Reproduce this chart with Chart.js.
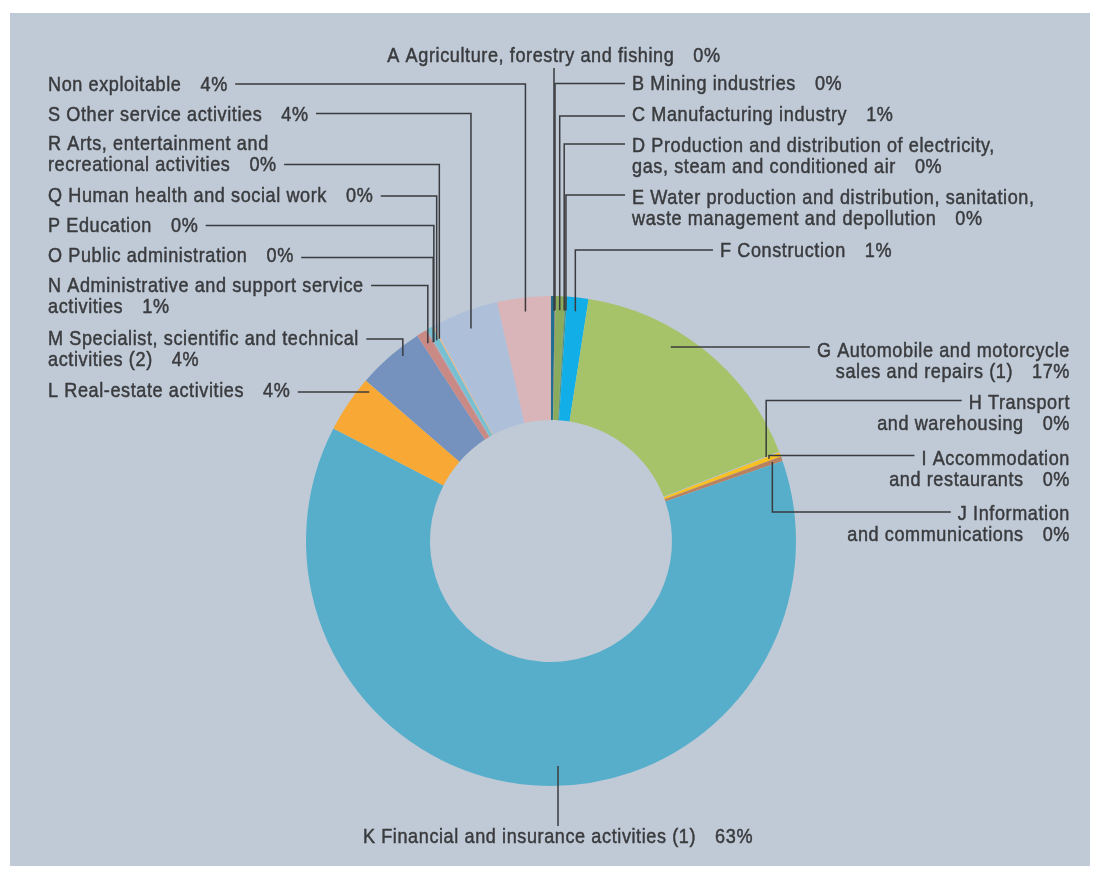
<!DOCTYPE html>
<html>
<head>
<meta charset="utf-8">
<script src="https://cdn.jsdelivr.net/npm/chart.js@4"></script>
<style>
  html, body { margin: 0; background: #fff; }
  #panel { position: absolute; left: 10px; top: 13px; width: 1080px; height: 853px; background: #bfcad6; }
  #chart { position: absolute; left: 0; top: 0; }
</style>
</head>
<body>
<div id="panel"></div>
<canvas id="chart" width="1093" height="870"></canvas>
<script>
// Sectors, clockwise from 12 o'clock
const categories = [
  'A Agriculture, forestry and fishing',
  'B Mining industries',
  'C Manufacturing industry',
  'D Production and distribution of electricity,\ngas, steam and conditioned air',
  'E Water production and distribution, sanitation,\nwaste management and depollution',
  'F Construction',
  'G Automobile and motorcycle\nsales and repairs (1)',
  'H Transport\nand warehousing',
  'I Accommodation\nand restaurants',
  'J Information\nand communications',
  'K Financial and insurance activities (1)',
  'L Real-estate activities',
  'M Specialist, scientific and technical\nactivities (2)',
  'N Administrative and support service\nactivities',
  'O Public administration',
  'P Education',
  'Q Human health and social work',
  'R Arts, entertainment and\nrecreational activities',
  'S Other service activities',
  'Non exploitable'
]
// share of total (%)
const shares = [0.25, 0.05, 0.6, 0.05, 0.1, 1.4, 16.6, 0.05, 0.3, 0.3, 62.9, 3.76, 4.45, 0.65, 0.05, 0.05, 0.4, 0.1, 4.41, 3.53]
// percentages as printed on the chart
const pctLabels = ['0%', '0%', '1%', '0%', '0%', '1%', '17%', '0%', '0%', '0%', '63%', '4%', '4%', '1%', '0%', '0%', '0%', '0%', '4%', '4%']

const colors = [
  '#1f6f8f', '#9a7a5a', '#8aab5c', '#6f9a60', '#4f8f78', '#12aee8', '#a6c36a',
  '#b0c0d6', '#f8c020', '#b88260', '#57aecb', '#f8a935', '#7592be', '#c98a86',
  '#c08a8a', '#a0b0c8', '#76c0d2', '#e9b98e', '#aebfd9', '#d9b4b8'
]

// where each callout sits: first baseline y, leader y (ly), which line carries the leader (ll)
const labelPos = [
  { x: 554, y: 62, align: 'center', lead: 'v', inset: 15 },
  { x: 632, y: 90, ly: 83.5, align: 'left' },
  { x: 632, y: 121, ly: 116, align: 'left' },
  { x: 632, y: 152, ly: 144, align: 'left', frac: 0.2 },
  { x: 632, y: 204, ly: 195, align: 'left', frac: 0.8 },
  { x: 720, y: 257, ly: 250, align: 'left', frac: 0.45 },
  { x: 1070, y: 357, ly: 347, align: 'right', lead: 'flat', inset: 17 },
  { x: 1070, y: 409, ly: 400.5, align: 'right', inset: 14 },
  { x: 1070, y: 465, ly: 455.5, align: 'right', inset: 12 },
  { x: 1070, y: 520, ly: 512, align: 'right', inset: 10 },
  { x: 558, y: 843, align: 'center', lead: 'v', inset: 20 },
  { x: 48, y: 397, ly: 392, align: 'left', lead: 'flat', inset: 10 },
  { x: 48, y: 345, ly: 339, align: 'left', frac: 0.65, inset: 8 },
  { x: 48, y: 291.5, ly: 285.5, align: 'left', inset: 12 },
  { x: 48, y: 262, ly: 257.5, align: 'left', inset: 14 },
  { x: 48, y: 232, ly: 225.5, align: 'left', inset: 14 },
  { x: 48, y: 202, ly: 196, align: 'left', inset: 14 },
  { x: 48, y: 150, ly: 164.5, ll: 1, align: 'left', inset: 14, frac: 0.1 },
  { x: 48, y: 121, ly: 113.5, align: 'left', inset: 18 },
  { x: 48, y: 91, ly: 84, align: 'left', inset: 14 }
]

// condensed look: Liberation Sans squeezed horizontally, a touch heavier
const FONT = '21px "Liberation Sans", Arial, sans-serif'
const SX = 0.86
const TRACK = 0.6
const LINE_H = 21
const PCT_GAP = 19
const INK = '#3a3b3e'

const callouts = {
  id: 'callouts',
  afterDraw(chart) {
    const ctx = chart.ctx
    const arcs = chart.getDatasetMeta(0).data
    ctx.save()
    ctx.font = FONT
    ctx.letterSpacing = (TRACK / SX) + 'px'
    ctx.fillStyle = INK
    ctx.strokeStyle = INK
    ctx.textBaseline = 'alphabetic'

    const measure = (t) => ctx.measureText(t).width * SX
    const put = (t, x, y) => {
      ctx.save()
      ctx.translate(x, y)
      ctx.scale(SX, 1)
      ctx.lineWidth = 0.5
      ctx.fillText(t, 0, 0)
      ctx.strokeText(t, 0, 0)
      ctx.restore()
    }

    categories.forEach((cat, i) => {
      const p = labelPos[i]
      const lines = cat.split('\n')
      const boxes = lines.map((t, k) => {
        const last = k === lines.length - 1
        const tw = measure(t)
        const w = last ? tw + PCT_GAP + measure(pctLabels[i]) : tw
        let left = p.x
        if (p.align === 'right') left = p.x - w
        if (p.align === 'center') left = p.x - w / 2
        const y = p.y + k * LINE_H
        put(t, left, y)
        if (last) put(pctLabels[i], left + tw + PCT_GAP, y)
        return { left, right: left + w - TRACK, y }
      })

      const { x: cx, y: cy, startAngle, endAngle, outerRadius } =
        arcs[i].getProps(['x', 'y', 'startAngle', 'endAngle', 'outerRadius'], true)
      const r = outerRadius - (p.inset ?? 14)
      ctx.lineWidth = 1.5
      ctx.beginPath()
      if (p.lead === 'v') {
        const ax = p.x
        const below = p.y > cy
        const ay = cy + (below ? 1 : -1) * Math.sqrt(r * r - (ax - cx) ** 2)
        const sy = below ? p.y - 17 : p.y + 6
        ctx.moveTo(ax, sy)
        ctx.lineTo(ax, ay)
      } else {
        const box = boxes[p.ll ?? 0]
        let ax, ay
        if (p.lead === 'flat') {
          ay = p.ly
          ax = cx + (p.x < cx ? -1 : 1) * Math.sqrt(r * r - (ay - cy) ** 2)
        } else {
          const a = startAngle + (endAngle - startAngle) * (p.frac ?? 0.5)
          ax = cx + r * Math.cos(a)
          ay = cy + r * Math.sin(a)
        }
        const sx = ax < box.left ? box.left - 7 : box.right + 8
        ctx.moveTo(sx, p.ly)
        ctx.lineTo(ax, p.ly)
        ctx.lineTo(ax, ay)
      }
      ctx.stroke()
    })
    ctx.restore()
  }
}

new Chart(document.getElementById('chart'), {
  type: 'doughnut',
  data: {
    labels: categories,
    datasets: [{ data: shares, backgroundColor: colors, borderWidth: 0 }]
  },
  options: {
    responsive: false,
    animation: false,
    cutout: '49.4%',
    layout: { padding: { left: 306, right: 297, top: 296, bottom: 84 } },
    plugins: { legend: { display: false }, tooltip: { enabled: false } }
  },
  plugins: [callouts]
})
</script>
</body>
</html>
